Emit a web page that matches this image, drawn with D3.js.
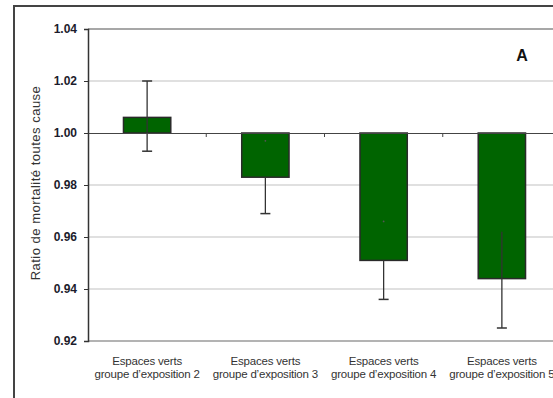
<!DOCTYPE html>
<html>
<head>
<meta charset="utf-8">
<script src="https://cdn.jsdelivr.net/npm/d3@7"></script>
<style>
  body { margin: 0; background: #fff; }
  svg { display: block; font-family: "Liberation Sans", Arial, sans-serif; }
</style>
</head>
<body>
<svg id="chart" width="553" height="398"></svg>
<script>
// data
var categories = ["groupe d\u2019exposition 2", "groupe d\u2019exposition 3", "groupe d\u2019exposition 4", "groupe d\u2019exposition 5"];
var ratios = [1.006, 0.983, 0.951, 0.944];
var lower = [0.993, 0.969, 0.936, 0.925];
var upper = [1.020, 0.997, 0.966, 0.962];
var yTicks = [0.92, 0.94, 0.96, 0.98, 1.00, 1.02, 1.04];

(function () {
    var svg = d3.select('#chart');
    var plotLeft = 88, plotRight = 561, plotTop = 29, plotBottom = 341;

    var x = d3.scaleBand().domain(categories).range([plotLeft, plotRight]).paddingInner(0.6).paddingOuter(0.3);
    var y = d3.scaleLinear().domain([0.92, 1.04]).range([plotBottom, plotTop]);

    // outer frame
    svg.append('path').attr('d', 'M14,398V6H553').attr('fill', 'none').attr('stroke', '#444').attr('stroke-width', 2);

    // grid lines
    svg.append('g').selectAll('line').data(yTicks.filter(function (d) { return d !== 1.00; })).enter().append('line')
        .attr('x1', plotLeft).attr('x2', plotRight)
        .attr('y1', function (d) { return y(d); }).attr('y2', function (d) { return y(d); })
        .attr('stroke', function (d) {
            if (d === 1.04) { return '#8a8a8a'; }
            if (d === 0.92) { return '#9a9a9a'; }
            return '#e0e0e0';
        })
        .attr('stroke-width', function (d) { return (d === 1.04 || d === 0.92) ? 1.5 : 2; });

    // y axis
    var yAxis = d3.axisLeft(y).tickValues(yTicks).tickFormat(d3.format('.2f')).tickSize(4).tickPadding(7);
    var ya = svg.append('g').attr('transform', 'translate(' + plotLeft + ',0)').call(yAxis);
    ya.select('.domain').attr('stroke', '#333').attr('stroke-width', 1.5);
    ya.selectAll('.tick line').attr('stroke', '#333');
    ya.selectAll('.tick text').attr('fill', '#1c1c2c').style('font-size', '12px').style('font-weight', 'bold');

    svg.append('text')
        .attr('transform', 'translate(40,183) rotate(-90)')
        .attr('text-anchor', 'middle')
        .attr('fill', '#333')
        .style('font-size', '13px')
        .style('letter-spacing', '0.5px')
        .text('Ratio de mortalit\u00e9 toutes cause');

    var capW = 10;
    var cxOf = function (c) { return x(c) + x.bandwidth() / 2; };

    // bars
    svg.append('g').selectAll('rect').data(ratios).enter().append('rect')
        .attr('x', function (d, i) { return x(categories[i]); })
        .attr('width', x.bandwidth())
        .attr('y', function (d) { return y(Math.max(d, 1)); })
        .attr('height', function (d) { return Math.abs(y(d) - y(1)); })
        .attr('fill', '#006400')
        .attr('stroke', '#2a2a2a')
        .attr('stroke-width', 1.5);

    // whiskers and caps
    var over = svg.append('g');
    categories.forEach(function (c, i) {
        var cx = cxOf(c);
        var yTop = ratios[i] >= 1 ? y(upper[i]) : y(ratios[i]);
        if (i === 3) { yTop = y(upper[i]); }
        over.append('line').attr('x1', cx).attr('x2', cx)
            .attr('y1', yTop).attr('y2', y(lower[i]))
            .attr('stroke', '#333').attr('stroke-width', 1.3);
        over.append('line').attr('x1', cx - capW / 2).attr('x2', cx + capW / 2)
            .attr('y1', y(lower[i])).attr('y2', y(lower[i]))
            .attr('stroke', '#333').attr('stroke-width', 1.5);
        if (ratios[i] >= 1) {
            over.append('line').attr('x1', cx - capW / 2).attr('x2', cx + capW / 2)
                .attr('y1', y(upper[i])).attr('y2', y(upper[i]))
                .attr('stroke', '#333').attr('stroke-width', 1.5);
        } else if (i !== 3) {
            over.append('circle').attr('cx', cx).attr('cy', y(upper[i])).attr('r', 0.9).attr('fill', '#555');
        }
    });

    // category axis at 1.00
    var xAxis = d3.axisBottom(x).tickSize(0).tickFormat('');
    var xa = svg.append('g').attr('transform', 'translate(0,' + y(1) + ')').call(xAxis);
    xa.select('.domain').attr('stroke', '#444').attr('stroke-width', 1.2);
    var step = x.step();
    xa.selectAll('.sep').data(categories.slice(1)).enter().append('line')
        .attr('x1', function (d) { return x(d) - step * 0.3; })
        .attr('x2', function (d) { return x(d) - step * 0.3; })
        .attr('y1', 0).attr('y2', 4).attr('stroke', '#444');

    // category labels under the plot
    var lab = svg.append('g').selectAll('text').data(categories).enter().append('text')
        .attr('x', cxOf)
        .attr('y', 365)
        .attr('text-anchor', 'middle')
        .attr('fill', '#333')
        .style('font-size', '11.5px')
        .style('letter-spacing', '-0.2px');
    lab.append('tspan').attr('x', cxOf).text('Espaces verts');
    lab.append('tspan').attr('x', cxOf).attr('dy', 13).text(function (d) { return d; });

    svg.append('text').attr('x', 522).attr('y', 61).attr('text-anchor', 'middle')
        .style('font-size', '16px').style('font-weight', 'bold').attr('fill', '#111').text('A');
})();
</script>
</body>
</html>
